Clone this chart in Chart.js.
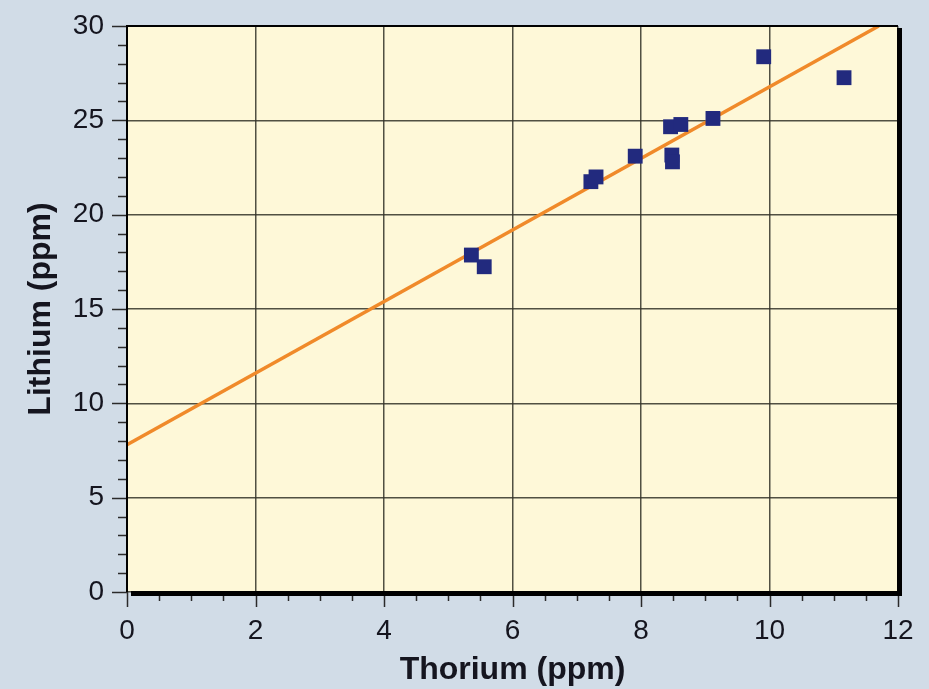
<!DOCTYPE html>
<html><head><meta charset="utf-8">
<script src="https://cdn.jsdelivr.net/npm/chart.js@4/dist/chart.umd.min.js"></script>
<style>html,body{margin:0;padding:0;background:#d1dce7;overflow:hidden}</style>
</head><body>
<canvas id="c" width="929" height="689" style="display:block;width:929px;height:689px"></canvas>
<script>
// Data
const thorium = [5.36, 5.56, 7.22, 7.30, 7.91, 8.46, 8.62, 8.48, 8.49, 9.12, 9.91, 11.16];
const lithium = [17.86, 17.24, 21.75, 22.00, 23.10, 24.66, 24.78, 23.16, 22.80, 25.10, 28.37, 27.26];
const fitThorium = [0, 11.7];
const fitLithium = [7.8, 30];
const xTickValues = [0, 2, 4, 6, 8, 10, 12];
const yTickValues = [0, 5, 10, 15, 20, 25, 30];
const xTitle = 'Thorium (ppm)';
const yTitle = 'Lithium (ppm)';

const FONT = "'Liberation Sans', Arial, Helvetica, sans-serif";
const BG = '#d1dce7';
const PLOT_BG = '#fef8d8';

const decor = {
  id: 'decor',
  beforeDraw(chart) {
    const {ctx, chartArea: a} = chart;
    ctx.save();
    ctx.fillStyle = BG;
    ctx.fillRect(0, 0, chart.width, chart.height);
    ctx.fillStyle = PLOT_BG;
    ctx.fillRect(a.left, a.top, a.right - a.left, a.bottom - a.top);
    ctx.restore();
  },
  afterDraw(chart) {
    const {ctx, chartArea: a, scales} = chart;
    const xs = scales.x, ys = scales.y;
    ctx.save();
    ctx.strokeStyle = '#2a2a2a';
    ctx.lineWidth = 1.5;
    for (let v = ys.min; v <= ys.max + 1e-9; v += 1) {
      const p = Math.round(ys.getPixelForValue(v)) + 0.5;
      const major = Math.abs(v % 5) < 1e-9;
      ctx.beginPath();
      ctx.moveTo(a.left - (major ? 15 : 9), p);
      ctx.lineTo(a.left, p);
      ctx.stroke();
    }
    for (let v = xs.min; v <= xs.max + 1e-9; v += 0.5) {
      const p = Math.round(xs.getPixelForValue(v)) + 0.5;
      const major = Math.abs(v % 2) < 1e-9;
      ctx.beginPath();
      ctx.moveTo(p, a.bottom);
      ctx.lineTo(p, a.bottom + (major ? 15 : 9));
      ctx.stroke();
    }
    ctx.strokeStyle = '#000';
    ctx.lineWidth = 2;
    ctx.beginPath();
    ctx.moveTo(a.left, a.bottom);
    ctx.lineTo(a.left, a.top);
    ctx.lineTo(a.right, a.top);
    ctx.stroke();
    ctx.lineWidth = 5;
    ctx.beginPath();
    ctx.moveTo(a.right + 1.5, a.top + 2);
    ctx.lineTo(a.right + 1.5, a.bottom + 1.5);
    ctx.lineTo(a.left + 4, a.bottom + 1.5);
    ctx.stroke();
    ctx.restore();
  }
};

function noPad(s) { s.paddingTop = 0; s.paddingBottom = 0; s.paddingLeft = 0; s.paddingRight = 0; }

new Chart(document.getElementById('c'), {
  type: 'scatter',
  data: {
    datasets: [
      {
        label: 'Samples',
        data: thorium.map((x, i) => ({x, y: lithium[i]})),
        pointStyle: 'rect',
        pointRadius: 10.5,
        pointHoverRadius: 10.5,
        backgroundColor: '#222a7e',
        borderColor: '#222a7e',
        borderWidth: 0
      },
      {
        label: 'Fit',
        type: 'line',
        data: fitThorium.map((x, i) => ({x, y: fitLithium[i]})),
        showLine: true,
        borderColor: '#f08a2a',
        borderWidth: 3.5,
        pointRadius: 0,
        fill: false
      }
    ]
  },
  options: {
    responsive: false,
    animation: false,
    devicePixelRatio: 1,
    layout: {padding: {top: 26, right: 31, left: 0, bottom: 0}},
    plugins: {legend: {display: false}, tooltip: {enabled: false}},
    scales: {
      x: {
        type: 'linear', min: 0, max: 12,
        afterBuildTicks: s => { s.ticks = xTickValues.map(v => ({value: v})); },
        afterFit: s => { s.height = 97; noPad(s); },
        grid: {color: 'rgba(50,50,40,0.85)', lineWidth: 1.5, drawTicks: false},
        border: {display: false},
        ticks: {padding: 22, color: '#15151f', font: {family: FONT, size: 28}, maxRotation: 0, autoSkip: false},
        title: {display: true, text: xTitle, color: '#15151f', font: {family: FONT, size: 32, weight: 'bold'}, padding: {top: 0, bottom: 0}}
      },
      y: {
        type: 'linear', min: 0, max: 30,
        afterBuildTicks: s => { s.ticks = yTickValues.map(v => ({value: v})); },
        afterFit: s => { s.width = 127; noPad(s); },
        grid: {color: 'rgba(50,50,40,0.85)', lineWidth: 1.5, drawTicks: false},
        border: {display: false},
        ticks: {padding: 23, color: '#15151f', font: {family: FONT, size: 28}, autoSkip: false},
        title: {display: true, text: yTitle, color: '#15151f', font: {family: FONT, size: 32, weight: 'bold'}, padding: {top: 22, bottom: 0}}
      }
    }
  },
  plugins: [decor]
});
</script>
</body></html>
